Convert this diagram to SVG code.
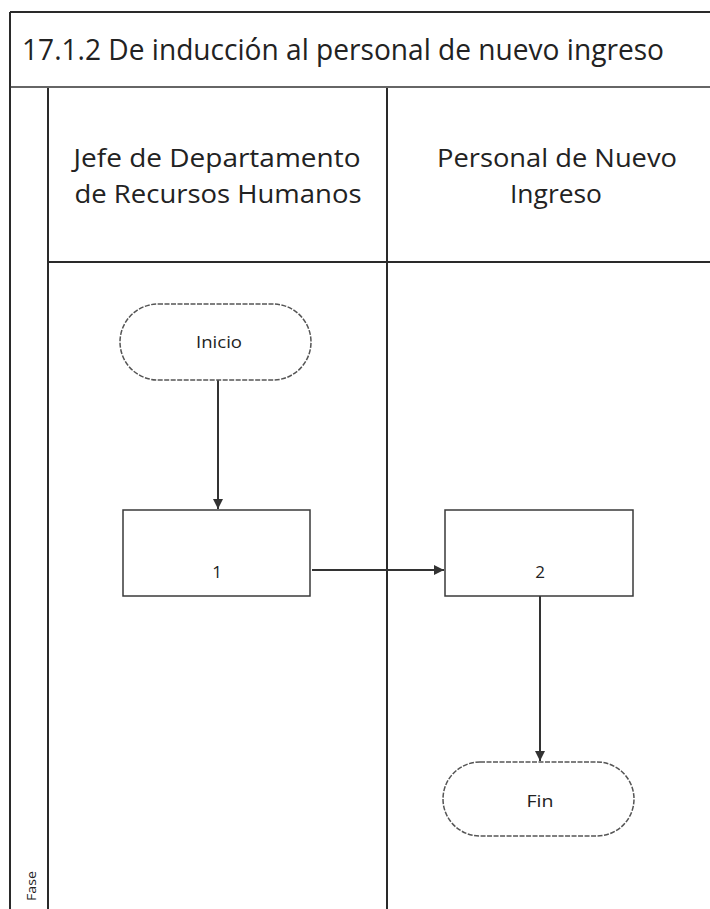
<svg xmlns="http://www.w3.org/2000/svg" width="710" height="909" viewBox="0 0 710 909">
<style>
.frame{stroke:#2a2a2a;stroke-width:2;fill:none}
.thin{stroke:#333;stroke-width:1.6;fill:none}
.shape{fill:#fff;stroke:#3a3a3a;stroke-width:1.5}
.term{fill:#fff;stroke:#555;stroke-width:1.5;stroke-dasharray:5 1.5}
.t{font-family:"Open Sans","Liberation Sans",sans-serif;fill:#222}
.conn{stroke:#333;stroke-width:2;fill:none}
</style>
<defs>
<marker id="ah" viewBox="0 0 10 10" refX="10" refY="5" markerWidth="5" markerHeight="5" orient="auto" markerUnits="strokeWidth">
<path d="M0,0 L10,5 L0,10 z" fill="#333"/>
</marker>
</defs>
<rect width="710" height="909" fill="#fff"/>
<g id="pool">
<line class="frame" x1="10" y1="12" x2="710" y2="12"/>
<line class="frame" x1="10" y1="12" x2="10" y2="909"/>
<line class="thin" x1="10" y1="87" x2="710" y2="87"/>
<line class="frame" x1="48" y1="88" x2="48" y2="909"/>
<line class="frame" x1="387" y1="88" x2="387" y2="909"/>
<line class="frame" x1="48" y1="262" x2="710" y2="262"/>
<text class="t" x="22" y="60" font-size="30" textLength="642" lengthAdjust="spacingAndGlyphs">17.1.2 De inducción al personal de nuevo ingreso</text>
<text class="t" x="36" y="886" font-size="13" text-anchor="middle" textLength="30" lengthAdjust="spacingAndGlyphs" transform="rotate(-90 36 886)">Fase</text>
</g>
<g id="lane1">
<text class="t" x="217" y="167" font-size="25" text-anchor="middle" textLength="287" lengthAdjust="spacingAndGlyphs">Jefe de Departamento</text>
<text class="t" x="218" y="203" font-size="25" text-anchor="middle" textLength="287" lengthAdjust="spacingAndGlyphs">de Recursos Humanos</text>
</g>
<g id="lane2">
<text class="t" x="557" y="167" font-size="25" text-anchor="middle" textLength="240" lengthAdjust="spacingAndGlyphs">Personal de Nuevo</text>
<text class="t" x="556" y="203" font-size="25" text-anchor="middle" textLength="92" lengthAdjust="spacingAndGlyphs">Ingreso</text>
</g>
<g id="connectors">
<line class="conn" x1="218" y1="380" x2="218" y2="509" marker-end="url(#ah)"/>
<line class="conn" x1="312" y1="570" x2="444" y2="570" stroke="#888" marker-end="url(#ah)"/>
<line class="conn" x1="540" y1="596" x2="540" y2="761" marker-end="url(#ah)"/>
</g>
<g id="inicio">
<rect class="term" x="120" y="304" width="191" height="76" rx="38" ry="38"/>
<text class="t" x="219" y="348" font-size="17" text-anchor="middle" textLength="46" lengthAdjust="spacingAndGlyphs">Inicio</text>
</g>
<g id="n1">
<rect class="shape" x="123" y="510" width="187" height="86"/>
<text class="t" x="217" y="578" font-size="17" text-anchor="middle">1</text>
</g>
<g id="n2">
<rect class="shape" x="445" y="510" width="188" height="86"/>
<text class="t" x="540" y="578" font-size="17" text-anchor="middle">2</text>
</g>
<g id="fin">
<rect class="term" x="443" y="762" width="191" height="74" rx="37" ry="37"/>
<text class="t" x="540" y="807" font-size="17" text-anchor="middle" textLength="27" lengthAdjust="spacingAndGlyphs">Fin</text>
</g>
</svg>
